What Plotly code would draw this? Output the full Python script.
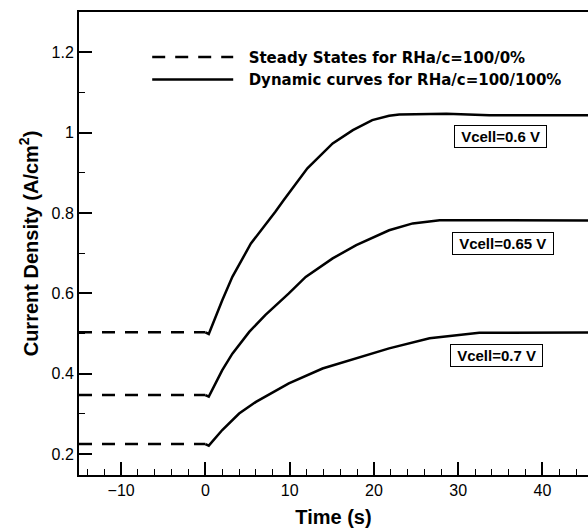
import plotly.graph_objects as go

# Steady-state current densities (RHa/c = 100/0%) before the humidity step
steady_t = [-15, 0]
steady_06 = 0.503
steady_065 = 0.347
steady_07 = 0.225

# Dynamic responses after the step to RHa/c = 100/100%
t_06 = [0, 0.4, 2.0, 3.2, 5.4, 6.2, 7.5, 8.3, 9.3, 12.1, 15.1, 17.5, 19.8, 21.8, 23.0, 28.6, 33.7, 50]
j_06 = [0.503, 0.499, 0.583, 0.641, 0.724, 0.745, 0.782, 0.803, 0.832, 0.911, 0.973, 1.006, 1.031, 1.042, 1.045, 1.047, 1.043, 1.043]

t_065 = [0, 0.4, 2.0, 3.2, 5.2, 7.1, 9.9, 11.9, 15.1, 17.9, 21.8, 24.6, 27.8, 50]
j_065 = [0.347, 0.343, 0.409, 0.450, 0.504, 0.546, 0.600, 0.641, 0.687, 0.720, 0.757, 0.774, 0.782, 0.781]

t_07 = [0, 0.4, 2.0, 4.0, 6.0, 9.9, 13.9, 17.9, 21.8, 26.6, 32.5, 50]
j_07 = [0.225, 0.221, 0.260, 0.301, 0.330, 0.376, 0.413, 0.438, 0.463, 0.488, 0.502, 0.503]

labels = ["Vcell=0.6 V", "Vcell=0.65 V", "Vcell=0.7 V"]
label_t = [35.0, 35.3, 34.5]
label_j = [0.989, 0.724, 0.446]

FONT = "Liberation Sans, Arial, Helvetica, sans-serif"
NBSP = "\u00a0"

# join the three curves of each kind into one trace separated by gaps
sx, sy = [], []
for level in (steady_06, steady_065, steady_07):
    sx += steady_t + [None]
    sy += [level, level, None]

dx, dy = [], []
for tt, jj in ((t_06, j_06), (t_065, j_065), (t_07, j_07)):
    dx += tt + [None]
    dy += jj + [None]

fig = go.Figure()
fig.add_trace(go.Scatter(
    x=sx, y=sy, mode="lines", name=NBSP * 2 + "Steady States for RHa/c=100/0%",
    line=dict(color="black", width=2.5, dash="13px,10px"),
))
fig.add_trace(go.Scatter(
    x=dx, y=dy, mode="lines", name=NBSP * 2 + "Dynamic curves for RHa/c=100/100%",
    line=dict(color="black", width=2.5),
))

for txt, xt, yj in zip(labels, label_t, label_j):
    fig.add_annotation(
        x=xt, y=yj, text=f"{NBSP}<b>{txt}</b>{NBSP}", showarrow=False,
        font=dict(family=FONT, size=15, color="black"),
        bordercolor="black", borderwidth=1, borderpad=2, bgcolor="white",
    )

fig.update_layout(
    width=588, height=530,
    margin=dict(l=79, r=0, t=12, b=55),
    plot_bgcolor="white", paper_bgcolor="white",
    font=dict(family=FONT, size=16, color="black"),
    showlegend=True,
    legend=dict(
        x=0.134, y=0.938, xanchor="left", yanchor="top",
        bgcolor="rgba(0,0,0,0)", itemwidth=81,
        font=dict(family="DejaVu Sans, sans-serif", size=15, color="black", weight="bold"),
        tracegroupgap=0, itemclick=False,
    ),
    xaxis=dict(
        range=[-15, 45.4], dtick=10, tick0=0,
        showline=True, linecolor="black", linewidth=2, mirror=True,
        showgrid=False, zeroline=False,
        ticks="inside", ticklen=13, tickwidth=2, tickcolor="black",
        minor=dict(dtick=2, ticks="inside", ticklen=6, tickwidth=1, tickcolor="black"),
        tickfont=dict(size=16),
        title=dict(text="<b>Time (s)</b>", font=dict(size=20), standoff=12),
    ),
    yaxis=dict(
        range=[0.148, 1.3], dtick=0.2, tick0=0,
        showline=True, linecolor="black", linewidth=2,
        showgrid=False, zeroline=False,
        ticks="inside", ticklen=13, tickwidth=2, tickcolor="black",
        minor=dict(dtick=0.1, ticks="inside", ticklen=6, tickwidth=1, tickcolor="black"),
        tickfont=dict(size=16),
        title=dict(text="<b>Current Density (A/cm<sup>2</sup>)</b>", font=dict(size=20), standoff=8),
    ),
)

fig.write_html("out.html")
